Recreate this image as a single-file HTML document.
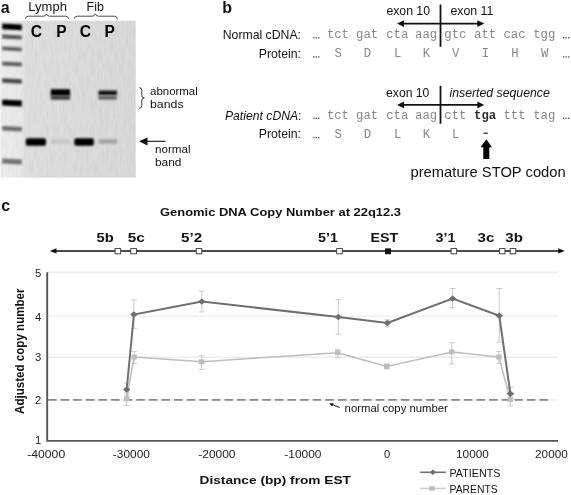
<!DOCTYPE html>
<html><head><meta charset="utf-8"><style>
html,body{margin:0;padding:0;background:#fff;width:571px;height:495px;overflow:hidden}
svg{display:block;filter:blur(0.3px)}

</style></head><body>
<svg width="571" height="495" viewBox="0 0 571 495" fill="#111">

<defs>
<filter id="b1" x="-20%" y="-50%" width="140%" height="200%"><feGaussianBlur stdDeviation="0.9"/></filter>
<filter id="b2" x="-20%" y="-80%" width="140%" height="260%"><feGaussianBlur stdDeviation="1.1"/></filter>
<filter id="b05"><feGaussianBlur stdDeviation="0.5"/></filter>
<filter id="noise" x="0" y="0" width="100%" height="100%"><feTurbulence type="fractalNoise" baseFrequency="0.45 0.08" numOctaves="2" seed="3"/><feColorMatrix type="matrix" values="0 0 0 0 0  0 0 0 0 0  0 0 0 0 0  0 0 0 -0.9 0.55"/></filter>
<linearGradient id="gelg" x1="0" x2="1" y1="0" y2="0">
<stop offset="0" stop-color="#ececec"/><stop offset="0.15" stop-color="#e8e8e8"/><stop offset="0.19" stop-color="#dedede"/><stop offset="1" stop-color="#d8d8d8"/>
</linearGradient>
</defs>
<rect x="0.5" y="20.7" width="135.2" height="156.9" fill="url(#gelg)"/>
<rect x="0.5" y="20.7" width="135.2" height="156.9" filter="url(#noise)" opacity="0.08"/>
<path d="M2.2,23.400000000000002 L21.8,24.400000000000002 L21.8,30.2 L2.2,29.2 Z" fill="#000" filter="url(#b2)"/>
<path d="M2.2,34.55 L21.8,35.55 L21.8,39.45 L2.2,38.45 Z" fill="#555" filter="url(#b2)"/>
<path d="M2.2,46.5 L21.8,47.5 L21.8,51.3 L2.2,50.3 Z" fill="#5e5e5e" filter="url(#b2)"/>
<path d="M2.2,61.45 L21.8,62.45 L21.8,66.55 L2.2,65.55 Z" fill="#5e5e5e" filter="url(#b2)"/>
<path d="M2.2,78.35 L21.8,79.35 L21.8,83.85 L2.2,82.85 Z" fill="#484848" filter="url(#b2)"/>
<path d="M2.2,99.6 L21.8,100.6 L21.8,106.4 L2.2,105.4 Z" fill="#000" filter="url(#b2)"/>
<path d="M2.2,126.00000000000001 L21.8,127.00000000000001 L21.8,131.60000000000002 L2.2,130.60000000000002 Z" fill="#6a6a6a" filter="url(#b2)"/>
<path d="M2.2,158.5 L21.8,159.5 L21.8,164.5 L2.2,163.5 Z" fill="#727272" filter="url(#b2)"/>
<rect x="50.8" y="89.2" width="19.2" height="6.6" fill="#000" filter="url(#b1)"/>
<rect x="50.8" y="95.5" width="19.2" height="4.2" fill="#3c3c3c" filter="url(#b1)"/>
<rect x="98.6" y="90.6" width="18.3" height="4.6" fill="#080808" filter="url(#b1)"/>
<rect x="98.6" y="95.8" width="18.3" height="3.8" fill="#5e5e5e" filter="url(#b1)"/>
<rect x="25.8" y="138.3" width="20.2" height="7.4" rx="2" fill="#000" filter="url(#b1)"/>
<rect x="74.3" y="138.3" width="19.5" height="7.4" rx="2" fill="#000" filter="url(#b1)"/>
<rect x="51" y="139.3" width="19" height="4.4" fill="#c6c6c6" filter="url(#b1)"/>
<rect x="98.8" y="139.3" width="18.3" height="4.4" fill="#a2a2a2" filter="url(#b1)"/>
<text x="0.7" y="13.2" font-family="Liberation Sans" font-size="16" text-anchor="start" font-weight="bold">a</text>
<text x="28.3" y="11.4" font-family="Liberation Sans" font-size="12.3" text-anchor="start" textLength="38.6" lengthAdjust="spacingAndGlyphs" >Lymph</text>
<text x="86.6" y="11.4" font-family="Liberation Sans" font-size="12.3" text-anchor="start" textLength="17.2" lengthAdjust="spacingAndGlyphs" >Fib</text>
<path d="M25.2,18.8 Q26,16.2 28.5,16.2 L43.5,16.2 Q45.8,16.2 46.5,14 Q47.2,16.2 49.5,16.2 L65.5,16.2 Q68,16.2 68.8,18.8" fill="none" stroke="#333" stroke-width="0.9"/>
<path d="M74,18.8 Q74.8,16.2 77.3,16.2 L92.3,16.2 Q94.6,16.2 95.4,13.8 Q96.2,16.2 98.5,16.2 L114.3,16.2 Q116.8,16.2 117.4,18.8" fill="none" stroke="#333" stroke-width="0.9"/>
<text x="30.7" y="36.9" font-family="Liberation Sans" font-size="15.6" text-anchor="start" font-weight="bold" fill="#000">C</text>
<text x="56.3" y="36.9" font-family="Liberation Sans" font-size="15.6" text-anchor="start" font-weight="bold" fill="#000">P</text>
<text x="79.7" y="36.9" font-family="Liberation Sans" font-size="15.6" text-anchor="start" font-weight="bold" fill="#000">C</text>
<text x="104.4" y="36.9" font-family="Liberation Sans" font-size="15.6" text-anchor="start" font-weight="bold" fill="#000">P</text>
<path d="M139.2,87.6 Q141.8,87.8 141.8,90.5 L141.8,95.5 Q141.8,97.6 144.3,97.9 Q141.8,98.2 141.8,100.3 L141.8,105.5 Q141.8,108.2 139.2,108.3" fill="none" stroke="#222" stroke-width="0.9"/>
<text x="150" y="95.3" font-family="Liberation Sans" font-size="11.5" text-anchor="start" textLength="47.8" lengthAdjust="spacingAndGlyphs" >abnormal</text>
<text x="150" y="108.3" font-family="Liberation Sans" font-size="11.5" text-anchor="start" textLength="33.6" lengthAdjust="spacingAndGlyphs" >bands</text>
<line x1="146" y1="141.3" x2="165.5" y2="141.3" stroke="#111" stroke-width="1.1"/>
<path d="M139,141.3 L147.5,137.5 L147.5,145.4 Z" fill="#111"/>
<text x="155" y="152.8" font-family="Liberation Sans" font-size="11.5" text-anchor="start" textLength="35.6" lengthAdjust="spacingAndGlyphs" >normal</text>
<text x="155" y="165.5" font-family="Liberation Sans" font-size="11.5" text-anchor="start" textLength="26.5" lengthAdjust="spacingAndGlyphs" >band</text>
<text x="222.3" y="13" font-family="Liberation Sans" font-size="16" text-anchor="start" font-weight="bold">b</text>
<text x="301" y="38.9" font-family="Liberation Sans" font-size="12.25" text-anchor="end" >Normal cDNA:</text>
<text x="301" y="58.0" font-family="Liberation Sans" font-size="12.25" text-anchor="end" >Protein:</text>
<text x="301.5" y="119.6" font-family="Liberation Sans" font-size="12.2" text-anchor="end" ><tspan font-style="italic">Patient cDNA</tspan>:</text>
<text x="301" y="138.2" font-family="Liberation Sans" font-size="12.25" text-anchor="end" >Protein:</text>
<text x="326.9" y="38.3" font-family="Liberation Mono" font-size="12.28" text-anchor="start" fill="#868686">tct</text>
<text x="326.9" y="118.9" font-family="Liberation Mono" font-size="12.28" text-anchor="start" fill="#868686">tct</text>
<text x="338.3" y="57.0" font-family="Liberation Mono" font-size="12.28" text-anchor="middle" fill="#868686">S</text>
<text x="338.3" y="137.7" font-family="Liberation Mono" font-size="12.28" text-anchor="middle" fill="#868686">S</text>
<text x="356.09999999999997" y="38.3" font-family="Liberation Mono" font-size="12.28" text-anchor="start" fill="#868686">gat</text>
<text x="356.09999999999997" y="118.9" font-family="Liberation Mono" font-size="12.28" text-anchor="start" fill="#868686">gat</text>
<text x="367.5" y="57.0" font-family="Liberation Mono" font-size="12.28" text-anchor="middle" fill="#868686">D</text>
<text x="367.5" y="137.7" font-family="Liberation Mono" font-size="12.28" text-anchor="middle" fill="#868686">D</text>
<text x="386.2" y="38.3" font-family="Liberation Mono" font-size="12.28" text-anchor="start" fill="#868686">cta</text>
<text x="386.2" y="118.9" font-family="Liberation Mono" font-size="12.28" text-anchor="start" fill="#868686">cta</text>
<text x="397.6" y="57.0" font-family="Liberation Mono" font-size="12.28" text-anchor="middle" fill="#868686">L</text>
<text x="397.6" y="137.7" font-family="Liberation Mono" font-size="12.28" text-anchor="middle" fill="#868686">L</text>
<text x="415.09999999999997" y="38.3" font-family="Liberation Mono" font-size="12.28" text-anchor="start" fill="#868686">aag</text>
<text x="415.09999999999997" y="118.9" font-family="Liberation Mono" font-size="12.28" text-anchor="start" fill="#868686">aag</text>
<text x="426.5" y="57.0" font-family="Liberation Mono" font-size="12.28" text-anchor="middle" fill="#868686">K</text>
<text x="426.5" y="137.7" font-family="Liberation Mono" font-size="12.28" text-anchor="middle" fill="#868686">K</text>
<text x="444.3" y="38.3" font-family="Liberation Mono" font-size="12.28" text-anchor="start" fill="#868686">gtc</text>
<text x="444.3" y="118.9" font-family="Liberation Mono" font-size="12.28" text-anchor="start" fill="#868686">ctt</text>
<text x="455.70000000000005" y="57.0" font-family="Liberation Mono" font-size="12.28" text-anchor="middle" fill="#868686">V</text>
<text x="455.70000000000005" y="137.7" font-family="Liberation Mono" font-size="12.28" text-anchor="middle" fill="#868686">L</text>
<text x="474.09999999999997" y="38.3" font-family="Liberation Mono" font-size="12.28" text-anchor="start" fill="#868686">att</text>
<text x="474.09999999999997" y="118.9" font-family="Liberation Mono" font-size="12.28" text-anchor="start" fill="#2e2e2e" font-weight="bold">tga</text>
<text x="485.5" y="57.0" font-family="Liberation Mono" font-size="12.28" text-anchor="middle" fill="#868686">I</text>
<text x="503.5" y="38.3" font-family="Liberation Mono" font-size="12.28" text-anchor="start" fill="#868686">cac</text>
<text x="503.5" y="118.9" font-family="Liberation Mono" font-size="12.28" text-anchor="start" fill="#868686">ttt</text>
<text x="514.9" y="57.0" font-family="Liberation Mono" font-size="12.28" text-anchor="middle" fill="#868686">H</text>
<text x="533.2" y="38.3" font-family="Liberation Mono" font-size="12.28" text-anchor="start" fill="#868686">tgg</text>
<text x="533.2" y="118.9" font-family="Liberation Mono" font-size="12.28" text-anchor="start" fill="#868686">tag</text>
<text x="544.6" y="57.0" font-family="Liberation Mono" font-size="12.28" text-anchor="middle" fill="#868686">W</text>
<rect x="483.5" y="132.6" width="4.3" height="1.3" fill="#333"/>
<rect x="313.20" y="37.1" width="1.3" height="1.3" fill="#444"/>
<rect x="315.65" y="37.1" width="1.3" height="1.3" fill="#444"/>
<rect x="318.10" y="37.1" width="1.3" height="1.3" fill="#444"/>
<rect x="313.20" y="56.300000000000004" width="1.3" height="1.3" fill="#444"/>
<rect x="315.65" y="56.300000000000004" width="1.3" height="1.3" fill="#444"/>
<rect x="318.10" y="56.300000000000004" width="1.3" height="1.3" fill="#444"/>
<rect x="313.20" y="117.7" width="1.3" height="1.3" fill="#444"/>
<rect x="315.65" y="117.7" width="1.3" height="1.3" fill="#444"/>
<rect x="318.10" y="117.7" width="1.3" height="1.3" fill="#444"/>
<rect x="313.20" y="136.89999999999998" width="1.3" height="1.3" fill="#444"/>
<rect x="315.65" y="136.89999999999998" width="1.3" height="1.3" fill="#444"/>
<rect x="318.10" y="136.89999999999998" width="1.3" height="1.3" fill="#444"/>
<rect x="563.00" y="37.1" width="1.3" height="1.3" fill="#444"/>
<rect x="565.45" y="37.1" width="1.3" height="1.3" fill="#444"/>
<rect x="567.90" y="37.1" width="1.3" height="1.3" fill="#444"/>
<rect x="563.00" y="56.300000000000004" width="1.3" height="1.3" fill="#444"/>
<rect x="565.45" y="56.300000000000004" width="1.3" height="1.3" fill="#444"/>
<rect x="567.90" y="56.300000000000004" width="1.3" height="1.3" fill="#444"/>
<rect x="563.00" y="117.7" width="1.3" height="1.3" fill="#444"/>
<rect x="565.45" y="117.7" width="1.3" height="1.3" fill="#444"/>
<rect x="567.90" y="117.7" width="1.3" height="1.3" fill="#444"/>
<text x="386.4" y="15.4" font-family="Liberation Sans" font-size="12" text-anchor="start" textLength="43.6" lengthAdjust="spacingAndGlyphs" >exon 10</text>
<text x="450.4" y="15.4" font-family="Liberation Sans" font-size="12" text-anchor="start" textLength="43.0" lengthAdjust="spacingAndGlyphs" >exon 11</text>
<text x="386.0" y="96.9" font-family="Liberation Sans" font-size="12" text-anchor="start" textLength="43.4" lengthAdjust="spacingAndGlyphs" >exon 10</text>
<text x="449.5" y="96.8" font-family="Liberation Sans" font-size="12" text-anchor="start" textLength="100.3" lengthAdjust="spacingAndGlyphs" font-style="italic">inserted sequence</text>
<line x1="440.5" y1="4.5" x2="440.5" y2="46.8" stroke="#111" stroke-width="1.8"/>
<line x1="402" y1="23.6" x2="479" y2="23.6" stroke="#111" stroke-width="1.9"/>
<path d="M397,23.6 L404,20.3 L404,26.900000000000002 Z" fill="#111"/>
<path d="M484.3,23.6 L477.3,20.3 L477.3,26.900000000000002 Z" fill="#111"/>
<line x1="440.5" y1="85.9" x2="440.5" y2="123.7" stroke="#111" stroke-width="1.8"/>
<line x1="402" y1="104.9" x2="479" y2="104.9" stroke="#111" stroke-width="1.9"/>
<path d="M397,104.9 L404,101.60000000000001 L404,108.2 Z" fill="#111"/>
<path d="M484.3,104.9 L477.3,101.60000000000001 L477.3,108.2 Z" fill="#111"/>
<path d="M486.3,139.3 L492,147.2 L489.3,147.2 L489.3,158.9 L483.3,158.9 L483.3,147.2 L480.6,147.2 Z" fill="#000"/>
<text x="410.5" y="176.9" font-family="Liberation Sans" font-size="14.6" text-anchor="start" textLength="155.2" lengthAdjust="spacingAndGlyphs" >premature STOP codon</text>
<text x="1.2" y="211" font-family="Liberation Sans" font-size="16" text-anchor="start" font-weight="bold">c</text>
<text x="160" y="216.3" font-family="Liberation Sans" font-size="11.8" text-anchor="start" textLength="241" lengthAdjust="spacingAndGlyphs" font-weight="bold">Genomic DNA Copy Number at 22q12.3</text>
<text x="96.6" y="241.6" font-family="Liberation Sans" font-size="12.6" text-anchor="start" textLength="17.2" lengthAdjust="spacingAndGlyphs" font-weight="bold">5b</text>
<text x="127.79999999999998" y="241.6" font-family="Liberation Sans" font-size="12.6" text-anchor="start" textLength="17.0" lengthAdjust="spacingAndGlyphs" font-weight="bold">5c</text>
<text x="181.0" y="241.6" font-family="Liberation Sans" font-size="12.6" text-anchor="start" textLength="21.2" lengthAdjust="spacingAndGlyphs" font-weight="bold">5&#8217;2</text>
<text x="318.0" y="241.6" font-family="Liberation Sans" font-size="12.6" text-anchor="start" textLength="19.9" lengthAdjust="spacingAndGlyphs" font-weight="bold">5&#8217;1</text>
<text x="370.5" y="241.6" font-family="Liberation Sans" font-size="12.6" text-anchor="start" textLength="27.7" lengthAdjust="spacingAndGlyphs" font-weight="bold">EST</text>
<text x="435.5" y="241.6" font-family="Liberation Sans" font-size="12.6" text-anchor="start" textLength="19.9" lengthAdjust="spacingAndGlyphs" font-weight="bold">3&#8217;1</text>
<text x="477.6" y="241.6" font-family="Liberation Sans" font-size="12.6" text-anchor="start" textLength="16.7" lengthAdjust="spacingAndGlyphs" font-weight="bold">3c</text>
<text x="505.3" y="241.6" font-family="Liberation Sans" font-size="12.6" text-anchor="start" textLength="17.6" lengthAdjust="spacingAndGlyphs" font-weight="bold">3b</text>
<line x1="54" y1="250.9" x2="560" y2="250.9" stroke="#111" stroke-width="1.5"/>
<path d="M49.8,250.9 L56.5,248.3 L56.5,253.5 Z" fill="#111"/>
<path d="M564.8,250.9 L558.2,248.3 L558.2,253.5 Z" fill="#111"/>
<rect x="115.10000000000001" y="248.6" width="5.6" height="5.2" fill="#fff" stroke="#333" stroke-width="0.9"/>
<rect x="130.79999999999998" y="248.6" width="5.6" height="5.2" fill="#fff" stroke="#333" stroke-width="0.9"/>
<rect x="196.2" y="248.6" width="5.6" height="5.2" fill="#fff" stroke="#333" stroke-width="0.9"/>
<rect x="336.7" y="248.6" width="5.6" height="5.2" fill="#fff" stroke="#333" stroke-width="0.9"/>
<rect x="451.09999999999997" y="248.6" width="5.6" height="5.2" fill="#fff" stroke="#333" stroke-width="0.9"/>
<rect x="499.4" y="248.6" width="5.6" height="5.2" fill="#fff" stroke="#333" stroke-width="0.9"/>
<rect x="510.2" y="248.6" width="5.6" height="5.2" fill="#fff" stroke="#333" stroke-width="0.9"/>
<rect x="385" y="248.4" width="6" height="5.8" fill="#111"/>
<line x1="48" y1="272.5" x2="557.7" y2="272.5" stroke="#ececec" stroke-width="1.3"/>
<line x1="48" y1="316.2" x2="557.7" y2="316.2" stroke="#ececec" stroke-width="1.3"/>
<line x1="48" y1="357.25" x2="557.7" y2="357.25" stroke="#ececec" stroke-width="1.3"/>
<line x1="48" y1="399.8" x2="557.7" y2="399.8" stroke="#ececec" stroke-width="1.3"/>
<line x1="48.1" y1="399.8" x2="548.5" y2="399.8" stroke="#888" stroke-width="1.8" stroke-dasharray="8.5 4.1"/>
<path d="M47.2,272.3 L47.2,440.9 L558,440.9" fill="none" stroke="#555" stroke-width="1.9"/>
<text x="41.2" y="276.8" font-family="Liberation Sans" font-size="11.3" text-anchor="end" fill="#222">5</text>
<text x="41.2" y="321.1" font-family="Liberation Sans" font-size="11.3" text-anchor="end" fill="#222">4</text>
<text x="41.2" y="361.1" font-family="Liberation Sans" font-size="11.3" text-anchor="end" fill="#222">3</text>
<text x="41.2" y="404.1" font-family="Liberation Sans" font-size="11.3" text-anchor="end" fill="#222">2</text>
<text x="41.2" y="444.3" font-family="Liberation Sans" font-size="11.3" text-anchor="end" fill="#222">1</text>
<text x="46.2" y="458.4" font-family="Liberation Sans" font-size="11.2" text-anchor="middle" textLength="38.0" lengthAdjust="spacingAndGlyphs" fill="#222">-40000</text>
<text x="131.35" y="458.4" font-family="Liberation Sans" font-size="11.2" text-anchor="middle" textLength="37.1" lengthAdjust="spacingAndGlyphs" fill="#222">-30000</text>
<text x="216.9" y="458.4" font-family="Liberation Sans" font-size="11.2" text-anchor="middle" textLength="37.2" lengthAdjust="spacingAndGlyphs" fill="#222">-20000</text>
<text x="302.9" y="458.4" font-family="Liberation Sans" font-size="11.2" text-anchor="middle" textLength="37.2" lengthAdjust="spacingAndGlyphs" fill="#222">-10000</text>
<text x="387.05" y="458.4" font-family="Liberation Sans" font-size="11.2" text-anchor="middle" fill="#222">0</text>
<text x="472.4" y="458.4" font-family="Liberation Sans" font-size="11.2" text-anchor="middle" textLength="32.6" lengthAdjust="spacingAndGlyphs" fill="#222">10000</text>
<text x="551.4" y="458.4" font-family="Liberation Sans" font-size="11.2" text-anchor="middle" textLength="32.6" lengthAdjust="spacingAndGlyphs" fill="#222">20000</text>
<text x="199.5" y="484.3" font-family="Liberation Sans" font-size="11.7" text-anchor="start" textLength="151.5" lengthAdjust="spacingAndGlyphs" font-weight="bold">Distance (bp) from EST</text>
<text x="0" y="0" font-family="Liberation Sans" font-size="12" font-weight="bold" text-anchor="middle" textLength="125.5" lengthAdjust="spacingAndGlyphs" transform="translate(23.9,351.2) rotate(-90)">Adjusted copy number</text>
<path d="M126.7,393 L126.7,405.5 M123.9,393 L129.5,393 M123.9,405.5 L129.5,405.5" stroke="#c4c4c4" stroke-width="0.9" fill="none"/>
<path d="M134.1,351.4 L134.1,363.5 M131.29999999999998,351.4 L136.9,351.4 M131.29999999999998,363.5 L136.9,363.5" stroke="#c4c4c4" stroke-width="0.9" fill="none"/>
<path d="M201.6,355.8 L201.6,369.5 M198.79999999999998,355.8 L204.4,355.8 M198.79999999999998,369.5 L204.4,369.5" stroke="#c4c4c4" stroke-width="0.9" fill="none"/>
<path d="M337.7,349.7 L337.7,357.8 M334.9,349.7 L340.5,349.7 M334.9,357.8 L340.5,357.8" stroke="#c4c4c4" stroke-width="0.9" fill="none"/>
<path d="M386.8,364 L386.8,369 M384.0,364 L389.6,364 M384.0,369 L389.6,369" stroke="#c4c4c4" stroke-width="0.9" fill="none"/>
<path d="M451.8,342.6 L451.8,363.8 M449.0,342.6 L454.6,342.6 M449.0,363.8 L454.6,363.8" stroke="#c4c4c4" stroke-width="0.9" fill="none"/>
<path d="M498.9,351.4 L498.9,363.4 M496.09999999999997,351.4 L501.7,351.4 M496.09999999999997,363.4 L501.7,363.4" stroke="#c4c4c4" stroke-width="0.9" fill="none"/>
<path d="M510.2,395 L510.2,405.9 M507.4,395 L513.0,395 M507.4,405.9 L513.0,405.9" stroke="#c4c4c4" stroke-width="0.9" fill="none"/>
<path d="M126.7,383 L126.7,395 M123.9,383 L129.5,383 M123.9,395 L129.5,395" stroke="#c4c4c4" stroke-width="0.9" fill="none"/>
<path d="M133.9,300.1 L133.9,328.4 M131.1,300.1 L136.70000000000002,300.1 M131.1,328.4 L136.70000000000002,328.4" stroke="#c4c4c4" stroke-width="0.9" fill="none"/>
<path d="M201.8,291.1 L201.8,311.9 M199.0,291.1 L204.60000000000002,291.1 M199.0,311.9 L204.60000000000002,311.9" stroke="#c4c4c4" stroke-width="0.9" fill="none"/>
<path d="M338.3,299.6 L338.3,334.1 M335.5,299.6 L341.1,299.6 M335.5,334.1 L341.1,334.1" stroke="#c4c4c4" stroke-width="0.9" fill="none"/>
<path d="M387.4,319.8 L387.4,326.9 M384.59999999999997,319.8 L390.2,319.8 M384.59999999999997,326.9 L390.2,326.9" stroke="#c4c4c4" stroke-width="0.9" fill="none"/>
<path d="M452.6,288.5 L452.6,307.7 M449.8,288.5 L455.40000000000003,288.5 M449.8,307.7 L455.40000000000003,307.7" stroke="#c4c4c4" stroke-width="0.9" fill="none"/>
<path d="M499.3,288.5 L499.3,342.2 M496.5,288.5 L502.1,288.5 M496.5,342.2 L502.1,342.2" stroke="#c4c4c4" stroke-width="0.9" fill="none"/>
<path d="M510.4,387.3 L510.4,400 M507.59999999999997,387.3 L513.1999999999999,387.3 M507.59999999999997,400 L513.1999999999999,400" stroke="#c4c4c4" stroke-width="0.9" fill="none"/>
<polyline points="126.7,398.8 134.1,357.1 201.6,361.8 337.7,352.7 386.8,366.5 451.8,351.9 498.9,357 510.2,399.5" fill="none" stroke="#bdbdbd" stroke-width="1.5"/>
<rect x="124.0" y="396.3" width="5.4" height="5" fill="#bdbdbd"/>
<rect x="131.4" y="354.6" width="5.4" height="5" fill="#bdbdbd"/>
<rect x="198.9" y="359.3" width="5.4" height="5" fill="#bdbdbd"/>
<rect x="335.0" y="350.2" width="5.4" height="5" fill="#bdbdbd"/>
<rect x="384.1" y="364.0" width="5.4" height="5" fill="#bdbdbd"/>
<rect x="449.1" y="349.4" width="5.4" height="5" fill="#bdbdbd"/>
<rect x="496.2" y="354.5" width="5.4" height="5" fill="#bdbdbd"/>
<rect x="507.5" y="397.0" width="5.4" height="5" fill="#bdbdbd"/>
<polyline points="126.7,389.5 133.9,314.5 201.8,301.6 338.3,317 387.4,323 452.6,298.6 499.3,315.8 510.4,393.8" fill="none" stroke="#6f6f6f" stroke-width="2"/>
<path d="M122.9,389.5 L126.7,386.3 L130.5,389.5 L126.7,392.7 Z" fill="#6f6f6f"/>
<path d="M130.1,314.5 L133.9,311.3 L137.70000000000002,314.5 L133.9,317.7 Z" fill="#6f6f6f"/>
<path d="M198.0,301.6 L201.8,298.40000000000003 L205.60000000000002,301.6 L201.8,304.8 Z" fill="#6f6f6f"/>
<path d="M334.5,317 L338.3,313.8 L342.1,317 L338.3,320.2 Z" fill="#6f6f6f"/>
<path d="M383.59999999999997,323 L387.4,319.8 L391.2,323 L387.4,326.2 Z" fill="#6f6f6f"/>
<path d="M448.8,298.6 L452.6,295.40000000000003 L456.40000000000003,298.6 L452.6,301.8 Z" fill="#6f6f6f"/>
<path d="M495.5,315.8 L499.3,312.6 L503.1,315.8 L499.3,319.0 Z" fill="#6f6f6f"/>
<path d="M506.59999999999997,393.8 L510.4,390.6 L514.1999999999999,393.8 L510.4,397.0 Z" fill="#6f6f6f"/>
<line x1="339.7" y1="407.5" x2="332" y2="404.4" stroke="#111" stroke-width="1"/>
<path d="M329.2,403.3 L333.6,403.2 L332.2,406.6 Z" fill="#111"/>
<text x="344.6" y="412.2" font-family="Liberation Sans" font-size="11" text-anchor="start" textLength="103.3" lengthAdjust="spacingAndGlyphs" >normal copy number</text>
<line x1="420.2" y1="472.3" x2="445.9" y2="472.3" stroke="#6f6f6f" stroke-width="1.6"/>
<path d="M429.8,472.3 L432.9,469.6 L436,472.3 L432.9,475 Z" fill="#6f6f6f"/>
<text x="449.5" y="477" font-family="Liberation Sans" font-size="10.3" text-anchor="start" textLength="50.9" lengthAdjust="spacingAndGlyphs" >PATIENTS</text>
<line x1="420.2" y1="488.4" x2="445.9" y2="488.4" stroke="#cfcfcf" stroke-width="1.6"/>
<rect x="429.4" y="486.2" width="5.2" height="4.5" fill="#bdbdbd"/>
<text x="449.5" y="493.3" font-family="Liberation Sans" font-size="10.3" text-anchor="start" textLength="48.3" lengthAdjust="spacingAndGlyphs" >PARENTS</text>
</svg>
</body></html>
